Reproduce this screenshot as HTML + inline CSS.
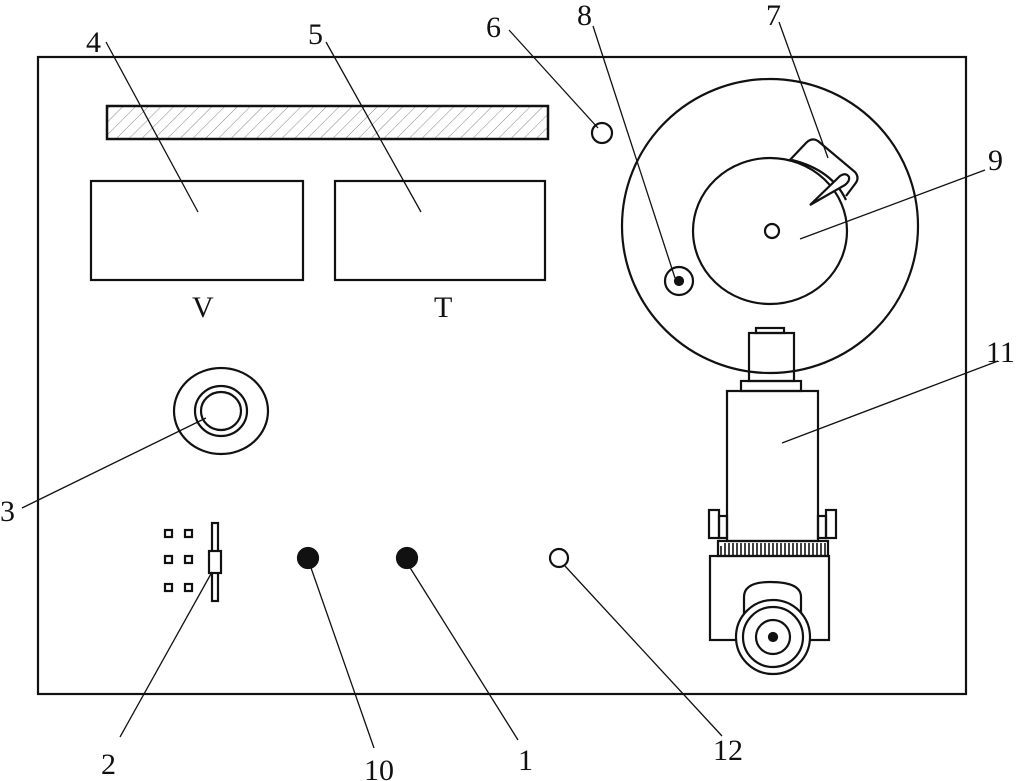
<!DOCTYPE html>
<html><head><meta charset="utf-8"><style>
html,body{margin:0;padding:0;background:#fff;}
svg{display:block}
text{font-family:"Liberation Serif",serif;font-size:30px;fill:#111}
</style></head><body>
<svg width="1018" height="781" viewBox="0 0 1018 781" xmlns="http://www.w3.org/2000/svg">
<defs>
<pattern id="h" patternUnits="userSpaceOnUse" width="9" height="9" patternTransform="rotate(45)">
<line x1="0" y1="0" x2="0" y2="9" stroke="#888" stroke-width="1"/>
</pattern>
</defs>
<g fill="none" stroke="#111" stroke-width="2.2">
<rect x="38" y="57" width="928" height="637"/>
<rect x="107" y="106" width="441" height="33" fill="url(#h)" stroke-width="2.5"/>
<rect x="91" y="181" width="212" height="99"/>
<rect x="335" y="181" width="210" height="99"/>
<circle cx="602" cy="133" r="10"/>
<ellipse cx="770" cy="226" rx="148" ry="147"/>
<path d="M788 162 L806 143 Q812 137 818 141 L855 172 Q860 178 855 184 L846 196" fill="#fff"/>
<ellipse cx="770" cy="231" rx="77" ry="73" fill="#fff"/>
<path d="M792 160 Q832 170 846 200"/>
<circle cx="772" cy="231" r="7"/>
<circle cx="679" cy="281" r="14"/>
<circle cx="679" cy="281" r="4" fill="#111"/>
<path d="M810 205 L840 176 Q846 172 849 177 Q850 181 845 185 Z" fill="#fff"/>
<ellipse cx="221" cy="411" rx="47" ry="43"/>
<ellipse cx="221" cy="411" rx="26" ry="25"/>
<ellipse cx="221" cy="411" rx="20" ry="19"/>
<rect x="165" y="530" width="7" height="7"/><rect x="185" y="530" width="7" height="7"/>
<rect x="165" y="556" width="7" height="7"/><rect x="185" y="556" width="7" height="7"/>
<rect x="165" y="584" width="7" height="7"/><rect x="185" y="584" width="7" height="7"/>
<rect x="212" y="523" width="6" height="78"/>
<rect x="209" y="551" width="12" height="22" fill="#fff"/>
<circle cx="308" cy="558" r="10" fill="#111"/>
<circle cx="407" cy="558" r="10" fill="#111"/>
<circle cx="559" cy="558" r="9"/>
<rect x="756" y="328" width="28" height="5"/>
<rect x="749" y="333" width="45" height="48"/>
<rect x="741" y="381" width="60" height="10"/>
<rect x="727" y="391" width="91" height="150"/>
<rect x="709" y="510" width="10" height="28"/><rect x="719" y="516" width="8" height="22"/>
<rect x="826" y="510" width="10" height="28"/><rect x="818" y="516" width="8" height="22"/>
<rect x="718" y="541" width="110" height="15"/>
<rect x="710" y="556" width="119" height="84"/>
<path d="M744 640 L744 597 Q744 582 770 582 Q801 582 801 597 L801 640" fill="#fff"/>
<circle cx="773" cy="637" r="37" fill="#fff"/>
<circle cx="773" cy="637" r="30"/>
<circle cx="773" cy="637" r="17"/>
<circle cx="773" cy="637" r="4" fill="#111"/>
</g>
<g stroke="#111" stroke-width="1.6">
<line x1="721" y1="546" x2="721" y2="556"/><line x1="725" y1="543" x2="725" y2="556"/><line x1="729" y1="543" x2="729" y2="556"/><line x1="733" y1="543" x2="733" y2="556"/><line x1="737" y1="543" x2="737" y2="556"/><line x1="741" y1="543" x2="741" y2="556"/><line x1="745" y1="543" x2="745" y2="556"/><line x1="749" y1="543" x2="749" y2="556"/><line x1="753" y1="543" x2="753" y2="556"/><line x1="757" y1="543" x2="757" y2="556"/><line x1="761" y1="543" x2="761" y2="556"/><line x1="765" y1="543" x2="765" y2="556"/><line x1="769" y1="543" x2="769" y2="556"/><line x1="773" y1="543" x2="773" y2="556"/><line x1="777" y1="543" x2="777" y2="556"/><line x1="781" y1="543" x2="781" y2="556"/><line x1="785" y1="543" x2="785" y2="556"/><line x1="789" y1="543" x2="789" y2="556"/><line x1="793" y1="543" x2="793" y2="556"/><line x1="797" y1="543" x2="797" y2="556"/><line x1="801" y1="543" x2="801" y2="556"/><line x1="805" y1="543" x2="805" y2="556"/><line x1="809" y1="543" x2="809" y2="556"/><line x1="813" y1="543" x2="813" y2="556"/><line x1="817" y1="543" x2="817" y2="556"/><line x1="821" y1="543" x2="821" y2="556"/><line x1="825" y1="543" x2="825" y2="556"/>
</g>
<g stroke="#111" stroke-width="1.3">
<line x1="106" y1="42" x2="198" y2="212"/>
<line x1="326" y1="42" x2="421" y2="212"/>
<line x1="509" y1="30" x2="598" y2="128"/>
<line x1="593" y1="26" x2="675" y2="278"/>
<line x1="779" y1="22" x2="828" y2="158"/>
<line x1="985" y1="170" x2="800" y2="239"/>
<line x1="998" y1="361" x2="782" y2="443"/>
<line x1="22" y1="508" x2="206" y2="418"/>
<line x1="120" y1="737" x2="212" y2="572"/>
<line x1="374" y1="748" x2="310" y2="565"/>
<line x1="518" y1="740" x2="409" y2="566"/>
<line x1="722" y1="736" x2="565" y2="566"/>
</g>
<text x="86" y="52">4</text>
<text x="308" y="44">5</text>
<text x="486" y="37">6</text>
<text x="577" y="25">8</text>
<text x="766" y="25">7</text>
<text x="988" y="170">9</text>
<text x="986" y="362">11</text>
<text x="0" y="521">3</text>
<text x="101" y="774">2</text>
<text x="364" y="780">10</text>
<text x="518" y="770">1</text>
<text x="713" y="760">12</text>
<text x="192" y="317" font-size="28">V</text>
<text x="434" y="317" font-size="28">T</text>
</svg>
</body></html>
